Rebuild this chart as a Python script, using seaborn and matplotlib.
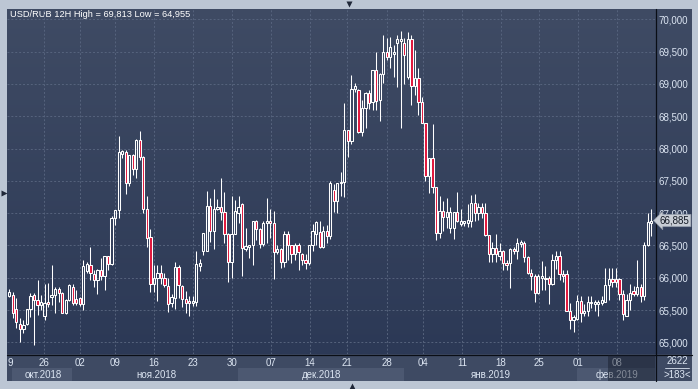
import numpy as np
import pandas as pd
import matplotlib
matplotlib.use("Agg")
import matplotlib.pyplot as plt
import seaborn as sns
from matplotlib.patches import Rectangle
from matplotlib.colors import LinearSegmentedColormap

# ---------------- data (USD/RUB, 12H candles) ----------------
open_ = [65.72, 65.73, 65.51, 65.29, 65.20, 65.29, 65.51, 65.73, 65.66, 65.58,
         65.40, 65.62, 65.70, 65.73, 65.82, 65.77, 65.45, 65.66, 65.86, 65.67,
         65.68, 65.59, 66.10, 66.20, 66.05, 65.97, 66.12, 66.03, 66.34, 66.21,
         66.92, 67.05, 67.92, 67.95, 67.46, 67.90, 67.69, 68.13, 67.87, 67.06,
         66.63, 65.90, 65.99, 66.08, 65.99, 65.87, 65.61, 65.69, 66.16, 65.87,
         65.67, 65.64, 65.61, 65.62, 66.18, 66.42, 66.42, 67.11, 66.72, 67.06,
         67.10, 67.02, 66.68, 66.24, 66.68, 67.00, 67.14, 66.45, 66.47, 66.51,
         66.87, 66.75, 66.52, 66.85, 66.88, 66.84, 66.40, 66.44, 66.24, 66.68,
         66.51, 66.37, 66.51, 66.37, 66.28, 66.22, 66.50, 66.68, 66.70, 66.47,
         66.72, 66.64, 67.36, 67.18, 67.46, 67.48, 68.29, 68.11, 68.92, 68.91,
         68.25, 68.62, 68.86, 68.72, 69.22, 68.75, 69.15, 69.49, 69.42, 69.46,
         69.63, 69.67, 69.63, 69.10, 69.70, 68.96, 69.09, 68.72, 68.39, 67.57,
         67.85, 67.41, 66.69, 67.03, 66.94, 66.77, 66.77, 67.01, 66.83, 66.84,
         66.85, 66.87, 67.15, 67.00, 67.09, 67.00, 66.66, 66.36, 66.46, 66.34,
         66.41, 66.23, 66.23, 66.45, 66.41, 66.52, 66.54, 66.32, 66.07, 66.02,
         65.76, 66.00, 66.00, 65.99, 65.91, 66.28, 66.34, 66.06, 66.06, 65.48,
         65.35, 65.36, 65.64, 65.46, 65.48, 65.61, 65.60, 65.60, 65.61, 65.63,
         65.89, 65.98, 65.98, 65.98, 65.75, 65.40, 65.66, 65.79, 65.74, 65.86,
         65.71, 66.51, 66.85]
high = [65.83, 65.78, 65.68, 65.37, 65.35, 65.52, 65.77, 65.77, 65.97, 65.73,
        65.91, 65.92, 66.20, 65.86, 65.85, 65.78, 65.67, 65.90, 65.91, 65.81,
        65.70, 66.28, 66.25, 66.48, 66.12, 66.14, 66.30, 66.34, 66.34, 66.95,
        67.05, 68.19, 67.97, 67.97, 67.90, 67.92, 68.14, 68.27, 67.88, 67.26,
        66.76, 66.20, 66.19, 66.20, 66.08, 66.00, 65.74, 66.24, 66.19, 65.88,
        65.80, 65.71, 65.71, 66.42, 66.29, 66.69, 67.34, 67.24, 67.38, 67.22,
        67.55, 67.32, 66.69, 67.27, 67.21, 67.27, 67.15, 66.77, 66.51, 66.88,
        66.90, 66.77, 66.88, 67.24, 67.07, 67.03, 66.51, 66.46, 66.72, 66.73,
        66.51, 66.54, 66.54, 66.38, 66.37, 66.51, 66.83, 66.88, 66.87, 66.80,
        66.82, 67.50, 67.45, 67.47, 67.64, 68.70, 68.29, 69.14, 69.01, 68.92,
        68.75, 68.88, 68.90, 69.22, 69.50, 69.17, 69.76, 69.71, 69.72, 69.60,
        69.76, 69.813, 69.71, 69.80, 69.76, 69.53, 69.24, 68.80, 68.39, 67.85,
        68.38, 67.41, 67.26, 67.18, 67.23, 67.10, 67.02, 67.33, 67.06, 66.88,
        67.14, 67.28, 67.30, 67.15, 67.15, 67.16, 66.66, 66.56, 66.68, 66.54,
        66.43, 66.28, 66.46, 66.48, 66.62, 66.59, 66.57, 66.34, 66.13, 66.05,
        66.05, 66.26, 66.18, 66.02, 66.36, 66.41, 66.41, 66.12, 66.12, 65.61,
        65.43, 65.73, 65.71, 65.60, 65.72, 65.71, 65.65, 65.65, 65.72, 66.15,
        66.15, 66.15, 66.15, 66.00, 65.81, 65.75, 65.91, 65.87, 66.28, 65.91,
        66.55, 67.00, 67.07]
low = [65.70, 65.37, 65.22, 65.00, 65.15, 65.27, 65.39, 64.955, 65.42, 65.50,
       65.34, 65.55, 65.58, 65.45, 65.63, 65.45, 65.44, 65.64, 65.58, 65.58,
       65.56, 65.50, 66.07, 65.96, 65.86, 65.74, 65.96, 65.81, 66.12, 66.20,
       66.81, 66.92, 67.85, 67.30, 67.42, 67.59, 67.54, 67.82, 67.00, 66.47,
       65.78, 65.78, 65.64, 65.91, 65.85, 65.47, 65.54, 65.51, 65.69, 65.54,
       65.46, 65.41, 65.56, 65.56, 66.11, 66.35, 66.42, 66.56, 66.45, 67.05,
       66.89, 66.54, 65.93, 65.99, 66.67, 66.85, 66.03, 66.41, 66.30, 66.19,
       66.59, 66.46, 66.49, 66.53, 66.61, 65.98, 66.36, 66.15, 66.17, 66.28,
       66.22, 66.28, 66.12, 66.20, 66.13, 66.19, 66.41, 66.51, 66.46, 66.46,
       66.53, 66.60, 67.01, 67.00, 67.26, 67.25, 67.87, 68.07, 68.88, 68.24,
       68.19, 68.32, 68.61, 68.60, 68.60, 68.43, 69.01, 69.37, 69.24, 69.10,
       68.95, 68.32, 69.00, 69.08, 68.68, 68.83, 68.52, 68.39, 67.49, 67.31,
       67.31, 66.59, 66.61, 66.72, 66.77, 66.69, 66.60, 66.86, 66.80, 66.80,
       66.78, 66.79, 66.87, 66.90, 66.92, 66.64, 66.25, 66.25, 66.25, 66.28,
       66.12, 66.12, 65.84, 66.36, 66.29, 66.48, 66.24, 66.05, 65.81, 65.62,
       65.74, 65.81, 65.81, 65.59, 65.89, 66.14, 65.97, 65.94, 65.48, 65.20,
       65.16, 65.35, 65.31, 65.40, 65.40, 65.53, 65.49, 65.41, 65.58, 65.63,
       65.66, 65.86, 65.86, 65.65, 65.34, 65.40, 65.50, 65.71, 65.71, 65.62,
       65.65, 66.49, 66.64]
close = [65.78, 65.45, 65.31, 65.20, 65.27, 65.51, 65.72, 65.66, 65.58, 65.62,
         65.61, 65.59, 65.73, 65.83, 65.77, 65.46, 65.66, 65.88, 65.61, 65.61,
         65.59, 66.18, 66.21, 66.07, 65.97, 66.12, 66.03, 66.34, 66.21, 66.92,
         67.05, 67.95, 67.96, 67.46, 67.90, 67.69, 68.13, 67.87, 67.07, 66.62,
         65.90, 65.99, 66.08, 65.99, 65.89, 65.60, 65.70, 66.16, 65.88, 65.67,
         65.61, 65.61, 65.64, 66.21, 66.22, 66.69, 67.11, 66.72, 67.06, 67.10,
         67.02, 66.68, 66.24, 66.68, 67.04, 67.10, 66.46, 66.49, 66.51, 66.87,
         66.75, 66.52, 66.85, 66.88, 66.84, 66.40, 66.44, 66.24, 66.68, 66.51,
         66.37, 66.51, 66.40, 66.28, 66.22, 66.50, 66.72, 66.86, 66.47, 66.72,
         66.64, 67.46, 67.18, 67.46, 67.48, 68.29, 68.11, 68.92, 68.96, 68.25,
         68.62, 68.86, 68.70, 69.22, 68.74, 69.15, 69.50, 69.41, 69.57, 69.50,
         69.69, 69.70, 69.44, 69.69, 68.97, 69.09, 68.72, 68.39, 67.57, 67.85,
         67.41, 66.69, 67.03, 66.94, 67.01, 67.01, 67.01, 66.87, 66.87, 66.88,
         66.89, 67.15, 67.00, 67.10, 67.00, 66.66, 66.36, 66.46, 66.36, 66.41,
         66.23, 66.19, 66.45, 66.41, 66.54, 66.55, 66.32, 66.07, 66.02, 65.76,
         66.02, 66.02, 65.98, 65.91, 66.28, 66.34, 66.06, 66.03, 65.49, 65.35,
         65.39, 65.64, 65.46, 65.49, 65.62, 65.63, 65.63, 65.63, 65.66, 65.89,
         65.98, 65.94, 65.94, 65.75, 65.44, 65.66, 65.77, 65.74, 65.86, 65.71,
         66.51, 66.86, 66.885]

date_tick_pos = [9.92, 20.0, 29.97, 41.0, 52.0, 63.05, 74.1, 85.3, 95.8,
                 107.0, 117.4, 128.4, 139.3, 150.3, 161.2, 172.2]
date_tick_labels = ['26', '02', '09', '16', '23', '30', '07', '14', '21',
                    '28', '04', '11', '18', '25', '01', '08']
month_labels = ['окт.2018', 'ноя.2018', 'дек.2018', 'янв.2019', 'фев.2019']
price_ticks = [65.0, 65.5, 66.0, 66.5, 67.0, 67.5, 68.0, 68.5, 69.0, 69.5, 70.0]
title_text = "USD/RUB 12H High = 69,813 Low = 64,955"
last_price = 66.885
bar_count_text = ">183<"
volume_text = "2622"

# ---------------- style ----------------
sns.set_theme(style="dark")
plt.rcParams['font.family'] = ['Liberation Sans', 'DejaVu Sans']

W, H = 698, 389
FS = 7.0
FS_T = 6.7
TXT = '#dce5f2'
RED = '#e0163c'

fig = plt.figure(figsize=(W / 100, H / 100), dpi=100, facecolor='#bcc6d4')

# background / chrome axes in pixel coordinates
bg = fig.add_axes([0, 0, 1, 1], zorder=0)
bg.set_facecolor('none')
grad = np.linspace(0, 1, 256)[:, None]
cmap = LinearSegmentedColormap.from_list('g', ['#3f4b64', '#2c3956'])
bg.imshow(grad, extent=(7, 692, 354, 9), cmap=cmap, aspect='auto',
          interpolation='bilinear', origin='upper')
bg.add_patch(Rectangle((7, 354), 685, 27, fc='#3e4a63', ec='none'))
for x0, x1 in [(12, 72), (238, 404), (577, 655)]:
    bg.add_patch(Rectangle((x0, 368), x1 - x0, 13, fc='#4c5871', ec='none'))
for lbl, xc in zip(month_labels, [43, 156, 322, 491, 617]):
    bg.text(xc, 375, lbl, color=TXT, fontsize=FS, ha='center', va='center')
bg.text(10, 362.5, '9', color=TXT, fontsize=FS, ha='center', va='center')
bg.plot([655.5, 655.5], [9, 381], color='#0a0e16', lw=0.9)
bg.plot([7, 692], [354.5, 354.5], color='#0a0e16', lw=0.9)
bg.text(677, 361.5, volume_text, color=TXT, fontsize=FS, ha='center', va='center')
bg.plot([665, 689], [368, 368], color=TXT, lw=0.6)
bg.text(677, 374.5, bar_count_text, color=TXT, fontsize=FS, ha='center', va='center')
bg.text(10, 14.5, title_text, color='white', fontsize=FS_T, ha='left', va='center')
bg.plot(349, 3.5, marker='v', ms=4.5, color='#1f2738', mec='none')
bg.plot(3.5, 193, marker='>', ms=4.5, color='#1f2738', mec='none')
bg.plot(352, 385.5, marker='^', ms=4.5, color='#1f2738', mec='none')
bg.set_xlim(0, W)
bg.set_ylim(H, 0)
bg.axis('off')

# ---------------- main candlestick axes ----------------
ax = fig.add_axes([7 / W, 1 - 354 / H, 648 / W, 345 / H], zorder=1)
ax.set_facecolor('none')

o = np.array(open_); h = np.array(high); l = np.array(low); c = np.array(close)
idx = np.arange(len(o))
body_lo = np.minimum(o, c)
body_hi = np.maximum(o, c)
body_h = np.maximum(body_hi - body_lo, 0.012)
df = pd.DataFrame({'idx': idx, 'body': body_h})

ax.vlines(idx, body_hi, h, color='white', lw=0.75, zorder=2)
ax.vlines(idx, l, body_lo, color='white', lw=0.75, zorder=2)
sns.barplot(data=df, x='idx', y='body', native_scale=True, width=0.64,
            errorbar=None, color='white', bottom=body_lo, edgecolor='white',
            linewidth=0.75, ax=ax, zorder=3)
for patch, up in zip(ax.patches, c >= o):
    patch.set_facecolor('none' if up else RED)

ax.set_xlim((7 - 9.3) / 3.527, (655 - 9.3) / 3.527)
ax.set_ylim(70 - (354 - 19.3) / 64.6, 70 - (9 - 19.3) / 64.6)
for s in ax.spines.values():
    s.set_visible(False)
ax.set_xlabel('')
ax.set_ylabel('')
ax.yaxis.tick_right()
ax.set_yticks(price_ticks)
ax.set_yticklabels([f"{v:.3f}".replace('.', ',') for v in price_ticks])
ax.set_xticks(date_tick_pos)
ax.set_xticklabels(date_tick_labels)
ax.tick_params(axis='y', length=0, pad=2.5, labelcolor=TXT, labelsize=FS)
ax.tick_params(axis='x', length=0, pad=3, labelcolor=TXT, labelsize=FS)
ax.grid(True, color='#56637d', linestyle=(0, (2, 2)), linewidth=0.7)
ax.set_axisbelow(True)

# ---------------- overlay: price tag & dim region ----------------
ov = fig.add_axes([0, 0, 1, 1], zorder=2)
ov.set_facecolor('none')
ov.set_xlim(0, W)
ov.set_ylim(H, 0)
ov.axis('off')
ov.add_patch(Rectangle((608, 355), 47, 26, fc='#141a28', ec='none', alpha=0.45))
y_tag = 19.3 + (70 - last_price) * 64.6
ov.text(660, y_tag, f"{last_price:.3f}".replace('.', ','), color='#111722',
        fontsize=FS, ha='left', va='center',
        bbox=dict(boxstyle='larrow,pad=0.12', fc='#c8cdd5', ec='#8f98a6', lw=0.5))

fig.savefig('out.png', dpi=100, facecolor=fig.get_facecolor())
